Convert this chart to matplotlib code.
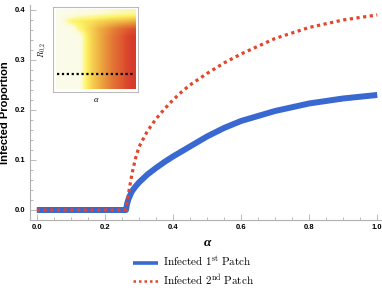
import numpy as np
import matplotlib.pyplot as plt
from matplotlib.colors import LinearSegmentedColormap
from matplotlib.lines import Line2D
from matplotlib.ticker import MultipleLocator

plt.rcParams['mathtext.fontset'] = 'cm'

# values
alpha = [0.0, 0.1, 0.2, 0.25, 0.262, 0.265, 0.27, 0.275, 0.28, 0.29, 0.3,
         0.325, 0.35, 0.375, 0.4, 0.425, 0.45, 0.5, 0.55, 0.6, 0.7, 0.8, 0.9, 1.0]
patch1 = [0, 0, 0, 0, 0, 0.012, 0.023, 0.031, 0.038, 0.047, 0.055,
          0.071, 0.084, 0.096, 0.107, 0.117, 0.127, 0.147, 0.164, 0.178,
          0.198, 0.213, 0.223, 0.23]
patch2 = [0, 0, 0, 0, 0, 0.015, 0.035, 0.055, 0.074, 0.103, 0.126,
          0.158, 0.182, 0.202, 0.22, 0.236, 0.25, 0.273, 0.294, 0.312,
          0.343, 0.365, 0.38, 0.39]

# inset heatmap, rows top -> bottom, columns left -> right
body = [0, 0, 0, 0.02, 0.3, 0.45, 0.55, 0.65, 0.75, 0.82, 0.9, 0.95]
inset_grid = [
    [0, 0, 0.02, 0.04, 0.07, 0.09, 0.11, 0.13, 0.15, 0.17, 0.19, 0.2],
    [0, 0.18, 0.3, 0.33, 0.35, 0.38, 0.42, 0.45, 0.48, 0.5, 0.52, 0.55],
    [0, 0, 0.05, 0.25, 0.36, 0.45, 0.55, 0.62, 0.7, 0.77, 0.83, 0.88],
    body, body, body, body, body, body, body,
]
inset_cut = 0.19

blue = '#3868d0'
red = '#e4462b'

fig = plt.figure(figsize=(3.82, 2.91), dpi=100)
ax = fig.add_axes([0.0785, 0.244, 0.918, 0.739])

ax.plot(alpha, patch1, color=blue, lw=4.3, solid_capstyle='butt',
        solid_joinstyle='round')
ax.plot(alpha, patch2, color=red, lw=2.3, ls=(0, (1, 1.1)), dash_capstyle='butt')

ax.set_xlim(-0.02, 1.01)
ax.set_ylim(-0.02, 0.41)
ax.xaxis.set_major_locator(MultipleLocator(0.2))
ax.xaxis.set_minor_locator(MultipleLocator(0.05))
ax.yaxis.set_major_locator(MultipleLocator(0.1))
ax.yaxis.set_minor_locator(MultipleLocator(0.02))
for s in ['top', 'right']:
    ax.spines[s].set_visible(False)
for s in ['left', 'bottom']:
    ax.spines[s].set_color('#b0b0b0')
    ax.spines[s].set_linewidth(0.8)
ax.tick_params(which='both', direction='in', color='#b0b0b0', width=0.6, pad=3)
ax.tick_params(which='major', length=4)
ax.tick_params(which='minor', length=2)
for lab in ax.get_xticklabels() + ax.get_yticklabels():
    lab.set_fontsize(5.5)
    lab.set_fontweight('bold')
    lab.set_family('Liberation Sans')

ax.set_ylabel('Infected Proportion', fontsize=8, fontweight='bold',
              family='Liberation Sans')
ax.yaxis.set_label_coords(-0.058, 0.5)
ax.set_xlabel('α', fontsize=9.5, fontweight='bold', style='italic',
              family='Liberation Serif')
ax.xaxis.set_label_coords(0.505, -0.08)

# inset
cmap = LinearSegmentedColormap.from_list('heat', [
    (0.0, '#fbfbea'), (0.12, '#fcfbd6'), (0.3, '#fef466'),
    (0.5, '#f2c048'), (0.65, '#e8923a'), (0.85, '#df5a30'), (1.0, '#d42b2a')])
ins = fig.add_axes([0.139, 0.684, 0.222, 0.292])
ins.imshow(np.array(inset_grid), cmap=cmap, vmin=0, vmax=1, aspect='auto',
           interpolation='bilinear', extent=(0, 1, 0, 1))
ins.plot([0.01, 0.99], [inset_cut, inset_cut], color='black', lw=1.6,
         ls=(0, (1, 1.2)))
ins.set_xlim(-0.035, 1.035)
ins.set_ylim(-0.035, 1.035)
ins.set_xticks([])
ins.set_yticks([])
for s in ins.spines.values():
    s.set_color('#bbbbbb')
    s.set_linewidth(0.8)
ins.set_xlabel('α', fontsize=6, style='italic', family='Liberation Serif', labelpad=3)
ins.set_ylabel(r'$R_{0,2}$', fontsize=6, labelpad=3)

handles = [Line2D([], [], color=blue, lw=2.6, solid_capstyle='butt'),
           Line2D([], [], color=red, lw=1.8, ls=(0, (1, 1.2)), dash_capstyle='butt')]
labels = [r'$\mathrm{Infected\ 1^{st}\ Patch}$', r'$\mathrm{Infected\ 2^{nd}\ Patch}$']
fig.legend(handles, labels, loc='upper left', bbox_to_anchor=(0.348, 0.125),
           frameon=False, prop={'size': 8},
           handlelength=2.3, handletextpad=0.45, labelspacing=0.32,
           borderpad=0, borderaxespad=0)

fig.savefig('out.png', dpi=100)
